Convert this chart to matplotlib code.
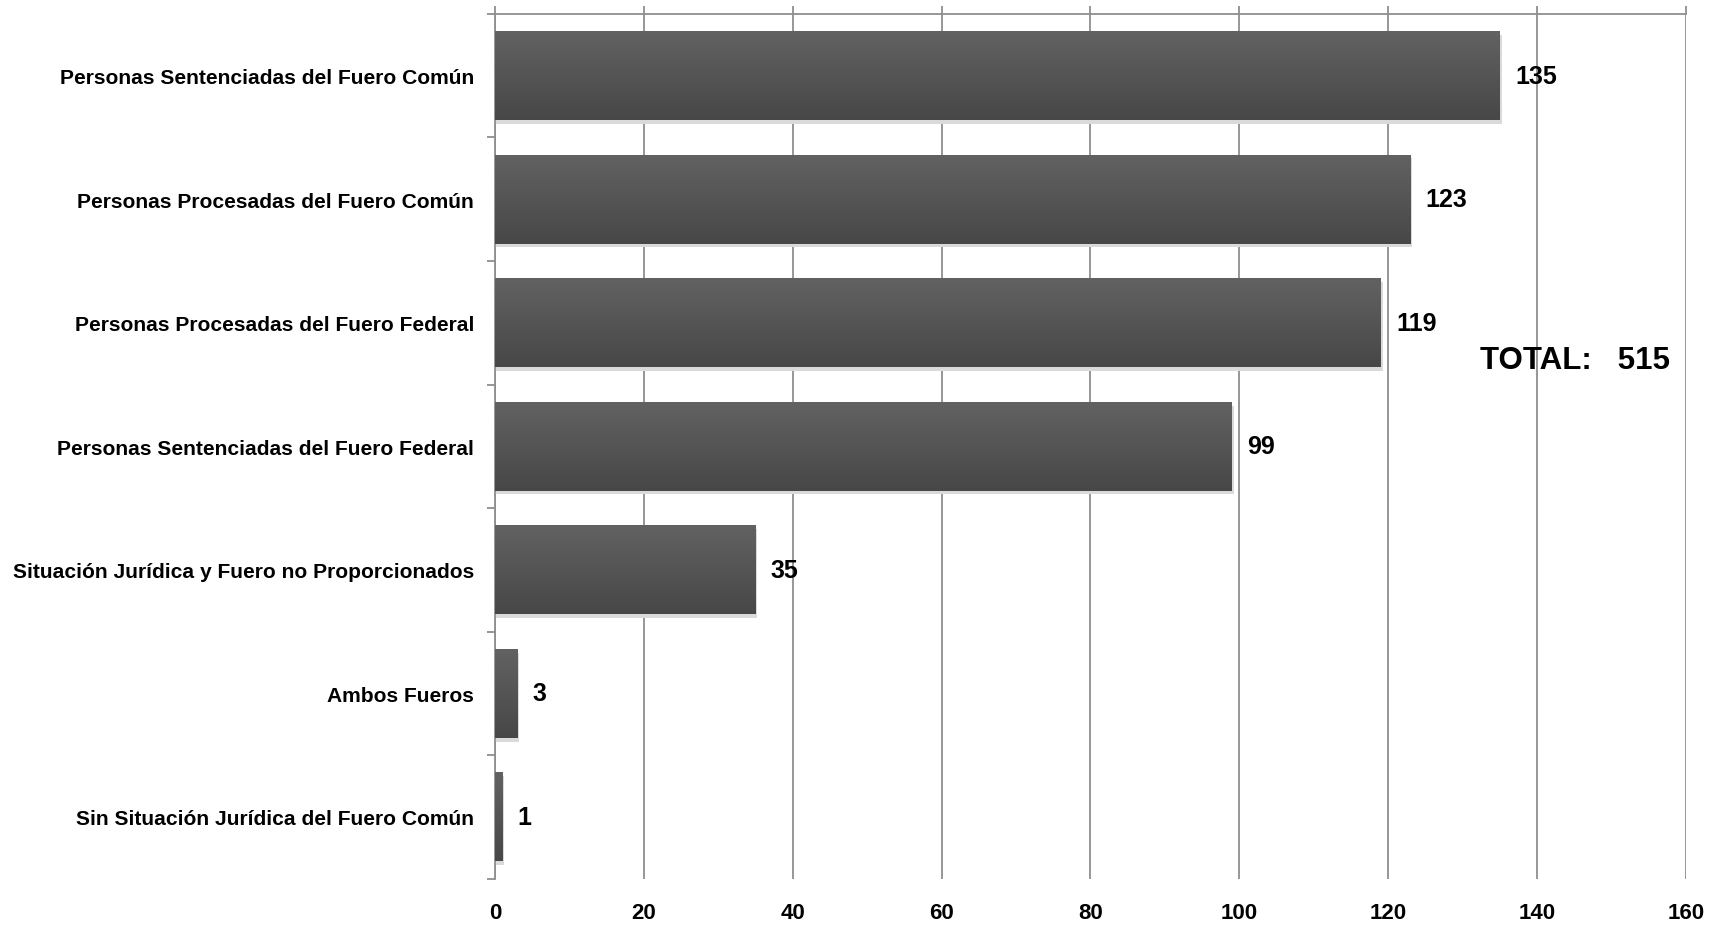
import matplotlib.pyplot as plt
import numpy as np

categories = [
    "Personas Sentenciadas del Fuero Común",
    "Personas Procesadas del Fuero Común",
    "Personas Procesadas del Fuero Federal",
    "Personas Sentenciadas del Fuero Federal",
    "Situación Jurídica y Fuero no Proporcionados",
    "Ambos Fueros",
    "Sin Situación Jurídica del Fuero Común",
]
values = [135, 123, 119, 99, 35, 3, 1]
x_ticks = [0, 20, 40, 60, 80, 100, 120, 140, 160]
total_label = "TOTAL:   515"

GRID_COLOR = "#8f8f8f"

fig = plt.figure(figsize=(17.21, 9.28), dpi=100)
ax = fig.add_axes([0.2876, 0.052, 0.692, 0.932])

y = np.arange(len(categories))
bars = ax.barh(y, values, height=0.72, color="#555555", zorder=3)

# vertical gradient inside every bar
cmap = plt.matplotlib.colors.LinearSegmentedColormap.from_list("g", ["#626262", "#474747"])
grad = np.linspace(0, 1, 256).reshape(-1, 1)
for b in bars:
    x0, y0 = b.get_x(), b.get_y()
    w, h = b.get_width(), b.get_height()
    # soft shadow below the bar
    ax.barh(y0 + h / 2 + 0.03, w + 0.25, height=h, left=x0, color="#dadada", zorder=2)
    im = ax.imshow(grad, cmap=cmap, aspect="auto",
                   extent=[x0, x0 + w, y0 + h, y0], zorder=4, interpolation="bilinear")
    im.set_clip_path(b)

for yi, v in zip(y, values):
    ax.annotate(str(v), (v, yi), xytext=(11, 0), textcoords="offset points",
                va="center", ha="left", fontsize=18, fontweight="bold",
                family="Liberation Sans", zorder=5)

ax.set_xlim(0, 160)
ax.set_ylim(len(categories) - 0.5, -0.5)
ax.set_xticks(x_ticks)
ax.set_xticklabels([str(t) for t in x_ticks], fontsize=16, fontweight="bold",
                   family=["Liberation Sans Narrow", "Liberation Sans"])
ax.xaxis.grid(True, color=GRID_COLOR, linewidth=1.3, zorder=0)
ax.tick_params(axis="x", which="major", bottom=False, top=True, length=6,
               color=GRID_COLOR, width=1.3, pad=11)

ax.set_yticks(y)
ax.set_yticklabels(categories, fontsize=15.1, fontweight="bold", family="Liberation Sans")
ax.set_yticks(np.arange(len(categories) + 1) - 0.5, minor=True)
ax.tick_params(axis="y", which="major", length=0, pad=15)
ax.tick_params(axis="y", which="minor", length=6, color=GRID_COLOR, width=1.3)

for side in ["right", "bottom"]:
    ax.spines[side].set_visible(False)
for side in ["top", "left"]:
    ax.spines[side].set_color(GRID_COLOR)
    ax.spines[side].set_linewidth(1.3)

ax.text(0.907, 0.60, total_label, transform=ax.transAxes, ha="center", va="center",
        fontsize=22.5, fontweight="bold", family="Liberation Sans", zorder=6)

fig.savefig("out.png", dpi=100, facecolor="white")
